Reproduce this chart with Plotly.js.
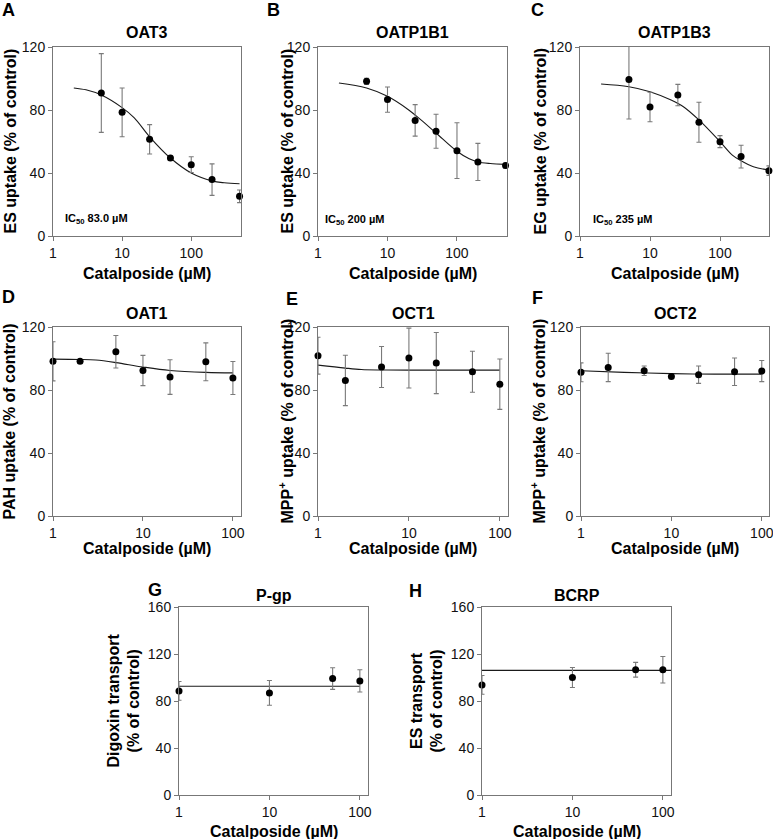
<!DOCTYPE html>
<html>
<head>
<meta charset="utf-8">
<script src="https://cdn.plot.ly/plotly-3.0.1.min.js"></script>
<style>html,body{margin:0;padding:0;background:#fff;}#chart{width:773px;height:839px;}</style>
</head>
<body>
<div id="chart"></div>
<script>
// ---------- data ----------
const concTop = [5, 10, 25, 50, 100, 200, 500];
const concMid = [1, 2, 5, 10, 20, 50, 100];
const concBot = [1, 10, 50, 100];

const oat3Mean = [90.8, 78.5, 61.4, 49.5, 45.3, 35.8, 25.2];
const oat3Err  = [25, 15.5, 9.3, 1.5, 5, 10, 4];
const oat3FitX = [2, 3, 5, 10, 15, 25, 50, 100, 200, 300, 500];
const oat3FitY = [94, 92.8, 89.5, 81.5, 75, 63, 49.5, 40, 35, 33.8, 33.2];

const oatp1b1Mean = [98.2, 86.6, 73.4, 66.5, 54.2, 47, 44.7];
const oatp1b1Err  = [2, 8, 10, 10.8, 17.7, 11.8, 1.5];
const oatp1b1FitX = [2, 5, 10, 20, 30, 50, 100, 150, 200, 300, 500];
const oatp1b1FitY = [97.1, 94, 88.7, 80.2, 73.9, 65.4, 53.8, 49, 47, 46, 45.5];

const oatp1b3Mean = [99.3, 81.9, 89.5, 72.2, 59.9, 50.4, 41.5];
const oatp1b3Err  = [25, 9.4, 6.8, 12.7, 3.8, 7.2, 3];
const oatp1b3FitX = [2, 5, 10, 20, 30, 50, 100, 150, 200, 300, 500];
const oatp1b3FitY = [96.5, 94.8, 91.6, 86.3, 82.1, 73.7, 59.9, 51.4, 47.8, 44, 41.9];

const oat1Mean = [98.2, 98.2, 104.3, 92.4, 88.2, 97.9, 87.6];
const oat1Err  = [12.4, 1, 10.3, 9.6, 11, 12, 10.5];
const oat1FitX = [1, 2, 3, 5, 10, 20, 50, 100];
const oat1FitY = [99.6, 99.4, 99, 97.4, 94.6, 92.4, 91.2, 90.9];

const oct1Mean = [101.8, 86.1, 94.6, 100.3, 97.1, 91.6, 83.7];
const oct1Err  = [11.7, 16, 13, 19, 19.4, 13, 16];
const oct1FitX = [1, 2, 3, 5, 10, 100];
const oct1FitY = [95.8, 93.9, 93.0, 92.7, 92.6, 92.6];

const oct2Mean = [91.2, 94.3, 92.2, 88.6, 89.7, 91.6, 92];
const oct2Err  = [6, 9, 3, 1, 5.5, 8.7, 6.7];
const oct2FitX = [1, 3, 10, 30, 100];
const oct2FitY = [92.2, 91.2, 90.4, 90.1, 90.1];

const pgpMean = [88.6, 86.9, 99.1, 97.1];
const pgpErr  = [8, 10.5, 9.2, 9.5];
const pgpLineX = [1, 100];
const pgpLineY = [92.6, 92.6];

const bcrpMean = [93.7, 100, 106.6, 106.6];
const bcrpErr  = [8, 8.5, 6.3, 11.3];
const bcrpLineX = [1, 123];
const bcrpLineY = [106.1, 106.1];

const panelTitles = ['OAT3', 'OATP1B1', 'OATP1B3', 'OAT1', 'OCT1', 'OCT2', 'P-gp', 'BCRP'];
const panelLetters = ['A', 'B', 'C', 'D', 'E', 'F', 'G', 'H'];
const yTitles = [
  'ES uptake (% of control)', 'ES uptake (% of control)', 'EG uptake (% of control)',
  'PAH uptake (% of control)', 'MPP<sup>+</sup> uptake (% of control)', 'MPP<sup>+</sup> uptake (% of control)',
  'Digoxin transport<br>(% of control)', 'ES transport<br>(% of control)'
];
const xTitle = 'Catalposide (µM)';
const icLabels = ['IC<sub>50</sub> 83.0 µM', 'IC<sub>50</sub> 200 µM', 'IC<sub>50</sub> 235 µM'];

// ---------- layout geometry (pixels) ----------
const W = 773, H = 839;
const boxes = [
  {l: 53, r: 241, t: 47, b: 236, xr: 2.72, yr: 120},
  {l: 318, r: 507, t: 47, b: 236, xr: 2.72, yr: 120},
  {l: 580, r: 769, t: 47, b: 236, xr: 2.70, yr: 120},
  {l: 53, r: 241, t: 327, b: 516, xr: 2.09, yr: 120},
  {l: 318, r: 508, t: 327, b: 516, xr: 2.09, yr: 120},
  {l: 581, r: 769, t: 327, b: 516, xr: 2.08, yr: 120},
  {l: 179, r: 368, t: 607, b: 795, xr: 2.09, yr: 160},
  {l: 482, r: 671, t: 607, b: 795, xr: 2.09, yr: 160}
];
const yTitleX = [10, 287, 540, 9, 286, 538, 123.5, 426.5];
const letterPos = [[8, 10], [273, 10], [537, 10], [8, 297], [292, 299], [537, 298], [155, 590], [416, 591]];
const titleY = [33, 33, 33, 313, 313, 313, 595, 595];
const xTitleY = [273, 273, 273, 548, 548, 548, 831, 831];
const icPos = [[63, 219], [323, 220], [591, 220]];

const px = v => v / W;
const py = v => 1 - v / H;

const series = [
  [concTop, oat3Mean, oat3Err, oat3FitX, oat3FitY],
  [concTop, oatp1b1Mean, oatp1b1Err, oatp1b1FitX, oatp1b1FitY],
  [concTop, oatp1b3Mean, oatp1b3Err, oatp1b3FitX, oatp1b3FitY],
  [concMid, oat1Mean, oat1Err, oat1FitX, oat1FitY],
  [concMid, oct1Mean, oct1Err, oct1FitX, oct1FitY],
  [concMid, oct2Mean, oct2Err, oct2FitX, oct2FitY],
  [concBot, pgpMean, pgpErr, pgpLineX, pgpLineY],
  [concBot, bcrpMean, bcrpErr, bcrpLineX, bcrpLineY]
];

const tickFont = {family: 'Liberation Sans Narrow, Arial Narrow, Liberation Sans, Arial, sans-serif', size: 14, color: '#111'};
const boldFont = s => ({family: 'Liberation Sans, Arial, sans-serif', size: s, color: '#000', weight: 'bold'});

const traces = [];
const layout = {
  width: W, height: H,
  margin: {l: 0, r: 0, t: 0, b: 0},
  paper_bgcolor: '#fff', plot_bgcolor: '#fff',
  showlegend: false,
  annotations: []
};

series.forEach((s, i) => {
  const n = i + 1;
  const xa = 'x' + (n === 1 ? '' : n), ya = 'y' + (n === 1 ? '' : n);
  const b = boxes[i];
  traces.push({
    x: s[3], y: s[4], xaxis: xa, yaxis: ya, type: 'scatter', mode: 'lines',
    line: {color: '#1a1a1a', width: 1.1, shape: 'spline', smoothing: 1},
    hoverinfo: 'skip', cliponaxis: false
  });
  traces.push({
    x: s[0], y: s[1], xaxis: xa, yaxis: ya, type: 'scatter', mode: 'markers',
    marker: {color: '#000', size: 7},
    error_y: {type: 'data', array: s[2], visible: true, color: '#7a7a7a', thickness: 1.1, width: 2.5},
    cliponaxis: false
  });
  const yvals = b.yr === 120 ? [0, 40, 80, 120] : [0, 40, 80, 120, 160];
  layout['xaxis' + (n === 1 ? '' : n)] = {
    domain: [px(b.l), px(b.r)], anchor: ya, type: 'log', range: [0, b.xr],
    tickmode: 'array', tickvals: [1, 10, 100], ticktext: ['1', '10', '100'],
    ticks: 'outside', ticklen: 4, tickcolor: '#777', tickfont: tickFont,
    ticklabeloverflow: 'allow',
    showline: true, linecolor: '#777', linewidth: 1, mirror: true,
    showgrid: false, zeroline: false, fixedrange: true
  };
  layout['yaxis' + (n === 1 ? '' : n)] = {
    domain: [py(b.b), py(b.t)], anchor: xa, range: [0, b.yr],
    tickmode: 'array', tickvals: yvals,
    ticks: 'outside', ticklen: 4, tickcolor: '#777', tickfont: tickFont,
    showline: true, linecolor: '#777', linewidth: 1, mirror: true,
    showgrid: false, zeroline: false, fixedrange: true
  };
  const cx = (b.l + b.r) / 2, cy = (b.t + b.b) / 2;
  layout.annotations.push({text: panelTitles[i], x: px(cx), y: py(titleY[i]), xref: 'paper', yref: 'paper',
    xanchor: 'center', yanchor: 'middle', showarrow: false, font: boldFont(16)});
  layout.annotations.push({text: panelLetters[i], x: px(letterPos[i][0]), y: py(letterPos[i][1]), xref: 'paper', yref: 'paper',
    xanchor: 'center', yanchor: 'middle', showarrow: false, font: boldFont(18)});
  layout.annotations.push({text: yTitles[i], x: px(yTitleX[i]), y: py(cy), xref: 'paper', yref: 'paper',
    xanchor: 'center', yanchor: 'middle', showarrow: false, textangle: -90, font: boldFont(16)});
  layout.annotations.push({text: xTitle, x: px(cx), y: py(xTitleY[i]), xref: 'paper', yref: 'paper',
    xanchor: 'center', yanchor: 'middle', showarrow: false, font: boldFont(16)});
  if (i < 3) {
    layout.annotations.push({text: icLabels[i], x: px(icPos[i][0]), y: py(icPos[i][1]), xref: 'paper', yref: 'paper',
      xanchor: 'left', yanchor: 'middle', showarrow: false, font: boldFont(11)});
  }
});

Plotly.newPlot('chart', traces, layout, {staticPlot: true, displayModeBar: false});
</script>
</body>
</html>
